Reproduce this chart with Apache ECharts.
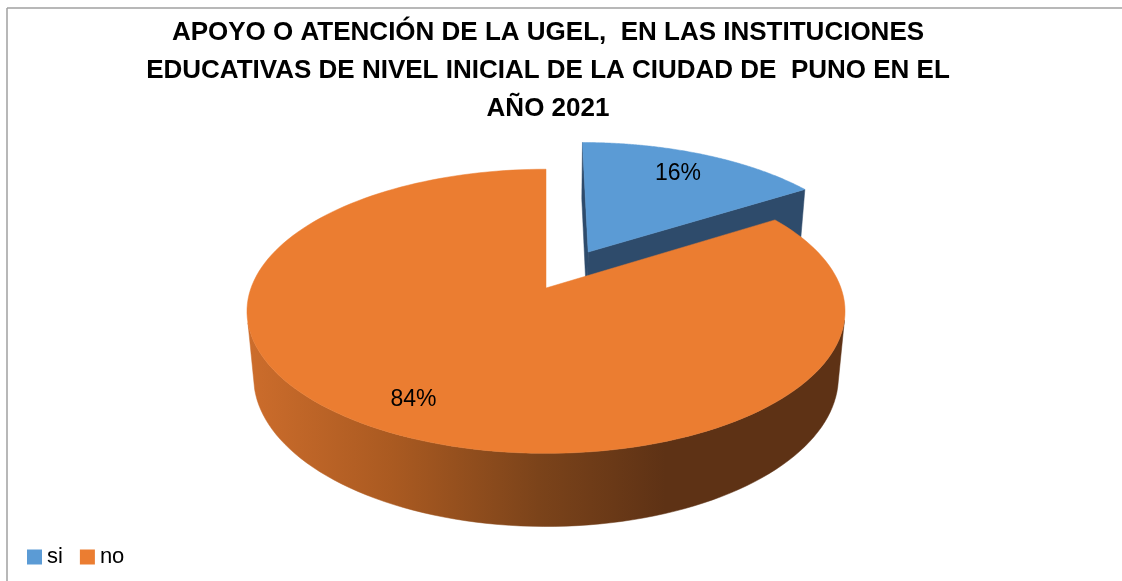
<!DOCTYPE html>
<html><head><meta charset="utf-8">
<script src="https://cdn.jsdelivr.net/npm/echarts@6/dist/echarts.min.js"></script>
<style>html,body{margin:0;padding:0;background:#fff}#chart{width:1122px;height:581px}</style>
</head><body><div id="chart"></div>
<script>
// ---- data ----
const categories = ['si', 'no'];
const values = [16, 84];
const titleLines = [
  'APOYO O ATENCIÓN DE LA UGEL,  EN LAS INSTITUCIONES',
  'EDUCATIVAS DE NIVEL INICIAL DE LA CIUDAD DE  PUNO EN EL',
  'AÑO 2021'
];

// ---- style ----
const topColors = ['#5B9BD5', '#EB7D31'];
const explode = [0.31, 0];
const VIEW = {cx: 546, cy: 288, k: 1590, D: 5.39, phi: 27.95 * Math.PI / 180, h: 0.255, labelR: 0.8};
const sn = Math.sin(VIEW.phi), cs = Math.cos(VIEW.phi);
const camZ = -VIEW.D * cs;

function project(x, y, z) {
  const vx = x, vy = y - VIEW.D * sn, vz = z + VIEW.D * cs;
  const depth = -vy * sn + vz * cs;
  const sy = vy * cs + vz * sn;
  return [VIEW.cx + VIEW.k * vx / depth, VIEW.cy - VIEW.k * sy / depth];
}

function sideFill(idx) {
  if (idx === 0) return '#2E4B6B';
  return {
    type: 'linear', x: 245, y: 0, x2: 665, y2: 0, global: true,
    colorStops: [
      {offset: 0, color: '#CD6D2C'},
      {offset: 0.35, color: '#AA5A21'},
      {offset: 0.7, color: '#7B431A'},
      {offset: 1, color: '#5E3215'}
    ]
  };
}

const total = values.reduce((a, b) => a + b, 0);
const starts = values.map((v, i) => values.slice(0, i).reduce((a, b) => a + b, 0));

function renderSlice(params, api) {
  const idx = params.seriesIndex;
  const start = api.value(0), val = api.value(1), tot = api.value(2);
  const a0 = start / tot * 2 * Math.PI, a1 = (start + val) / tot * 2 * Math.PI;
  const mid = (a0 + a1) / 2;
  const e = explode[idx];
  const ox = e * Math.sin(mid), oz = e * Math.cos(mid);
  const h = VIEW.h;
  const rim = (t, y) => project(ox + Math.sin(t), y, oz + Math.cos(t));
  const N = 160;
  const angs = [];
  for (let j = 0; j <= N; j++) angs.push(a0 + (a1 - a0) * j / N);
  const children = [];
  const fill = sideFill(idx);
  let run = [];
  const flush = () => {
    if (run.length > 1) {
      const pts = run.map(t => rim(t, 0)).concat(run.slice().reverse().map(t => rim(t, -h)));
      children.push({type: 'polygon', shape: {points: pts}, style: {fill: fill, stroke: fill, lineWidth: 0.5}});
    }
    run = [];
  };
  angs.forEach(t => {
    const px = ox + Math.sin(t), pz = oz + Math.cos(t);
    const dot = Math.sin(t) * (-px) + Math.cos(t) * (camZ - pz);
    if (dot > 0) run.push(t); else flush();
  });
  flush();
  const faces = [[a0, -Math.cos(a0), Math.sin(a0)], [a1, Math.cos(a1), -Math.sin(a1)]];
  faces.forEach(([t, nx, nz]) => {
    const dot = nx * (-ox) + nz * (camZ - oz);
    if (dot > 1e-6) {
      const pts = [project(ox, 0, oz), rim(t, 0), rim(t, -h), project(ox, -h, oz)];
      children.push({type: 'polygon', shape: {points: pts}, style: {fill: fill, stroke: fill, lineWidth: 0.5}});
    }
  });
  const topPts = [project(ox, 0, oz)].concat(angs.map(t => rim(t, 0)));
  children.push({type: 'polygon', shape: {points: topPts}, style: {fill: topColors[idx], stroke: topColors[idx], lineWidth: 0.5}});
  const lp = project(ox + VIEW.labelR * Math.sin(mid), 0, oz + VIEW.labelR * Math.cos(mid));
  children.push({
    type: 'text', x: lp[0] - 4, y: lp[1] + 2,
    style: {
      text: Math.round(val / tot * 100) + '%', fill: '#000',
      fontSize: 23, fontFamily: 'Liberation Sans',
      align: 'center', verticalAlign: 'middle', textAlign: 'center', textVerticalAlign: 'middle'
    }
  });
  return {type: 'group', children: children};
}

const chart = echarts.init(document.getElementById('chart'), null, {renderer: 'canvas'});
chart.setOption({
  animation: false,
  backgroundColor: '#fff',
  title: {
    text: titleLines.join('\n'),
    left: 548, top: 14, padding: 0, textAlign: 'center',
    textStyle: {fontFamily: 'Liberation Sans', fontWeight: 'bold', fontSize: 26, lineHeight: 38, color: '#000'}
  },
  legend: {
    data: categories, left: 27, top: 546, padding: 0, icon: 'rect',
    itemWidth: 15, itemHeight: 15, itemGap: 17, selectedMode: false,
    textStyle: {fontFamily: 'Liberation Sans', fontSize: 22, color: '#000'}
  },
  graphic: [
    {type: 'line', shape: {x1: 7, y1: 8, x2: 1122, y2: 8}, style: {stroke: '#A0A0A0', lineWidth: 1.5}},
    {type: 'line', shape: {x1: 7, y1: 8, x2: 7, y2: 581}, style: {stroke: '#A0A0A0', lineWidth: 1.5}}
  ],
  series: categories.map((c, i) => ({
    type: 'custom', name: c, coordinateSystem: 'none',
    itemStyle: {color: topColors[i]},
    renderItem: renderSlice,
    data: [[starts[i], values[i], total]],
    silent: true
  }))
});
</script></body></html>
